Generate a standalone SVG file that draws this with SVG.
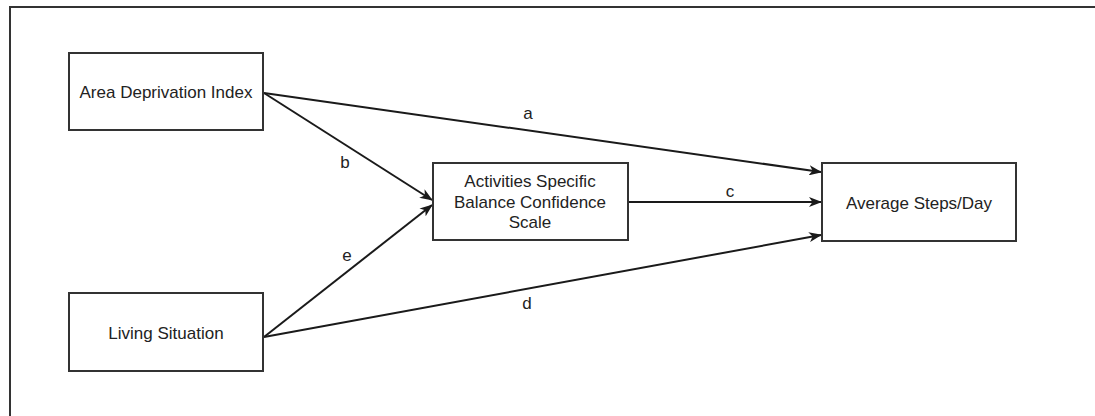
<svg xmlns="http://www.w3.org/2000/svg" width="1095" height="416" viewBox="0 0 1095 416">
<style>
.box{fill:#fff;stroke:#333;stroke-width:2}
.lbl{font-family:"Liberation Sans",Arial,sans-serif;font-size:17px;fill:#222;text-anchor:middle}
.edge{stroke:#1a1a1a;stroke-width:2;fill:none;marker-end:url(#arr)}
</style>
<defs>
<marker id="arr" viewBox="0 0 13 10" refX="12" refY="5" markerWidth="13" markerHeight="10" markerUnits="userSpaceOnUse" orient="auto">
<path d="M0,0 L13,5 L0,10 L3.5,5 Z" fill="#1a1a1a"/>
</marker>
</defs>
<rect x="0" y="0" width="1095" height="416" fill="#fff"/>
<rect x="10" y="7" width="1100" height="430" fill="none" stroke="#333" stroke-width="2"/>
<g id="connectors">
<line class="edge" x1="264" y1="93" x2="821" y2="172"/>
<line class="edge" x1="264" y1="93" x2="432" y2="200"/>
<line class="edge" x1="628" y1="202" x2="821" y2="202"/>
<line class="edge" x1="264" y1="337" x2="821" y2="235"/>
<line class="edge" x1="264" y1="337" x2="432" y2="205"/>
<text class="lbl" x="528" y="119">a</text>
<text class="lbl" x="345" y="168">b</text>
<text class="lbl" x="730" y="197">c</text>
<text class="lbl" x="527" y="309">d</text>
<text class="lbl" x="347" y="261">e</text>
</g>
<g id="node-adi">
<rect class="box" x="69" y="53" width="194" height="77"/>
<text class="lbl" x="166" y="98">Area Deprivation Index</text>
</g>
<g id="node-living">
<rect class="box" x="69" y="293" width="194" height="78"/>
<text class="lbl" x="166" y="339">Living Situation</text>
</g>
<g id="node-abc">
<rect class="box" x="433" y="163" width="195" height="77"/>
<text class="lbl" x="530" y="187">Activities Specific</text>
<text class="lbl" x="530" y="208">Balance Confidence</text>
<text class="lbl" x="530" y="228">Scale</text>
</g>
<g id="node-steps">
<rect class="box" x="822" y="163" width="194" height="78"/>
<text class="lbl" x="919" y="209">Average Steps/Day</text>
</g>
</svg>
